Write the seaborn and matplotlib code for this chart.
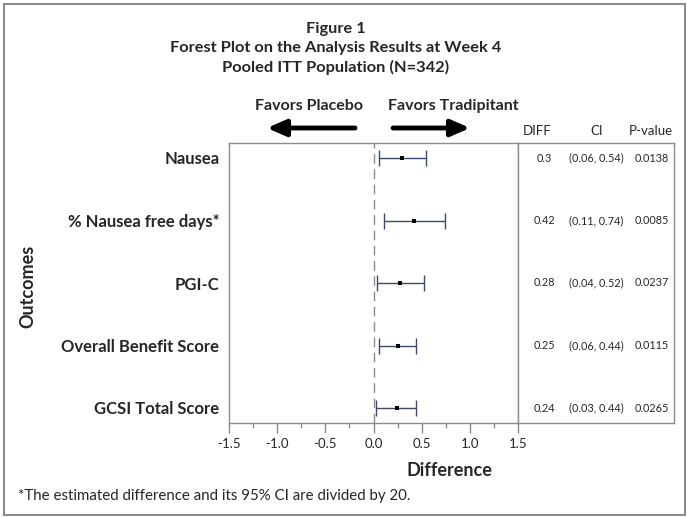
import matplotlib
matplotlib.use("Agg")
import matplotlib.pyplot as plt
from matplotlib.patches import Rectangle
import seaborn as sns
import numpy as np
import pandas as pd

# ---- data ----
outcomes = ["Nausea", "% Nausea free days*", "PGI-C", "Overall Benefit Score", "GCSI Total Score"]
diff = [0.3, 0.42, 0.28, 0.25, 0.24]
ci_low = [0.06, 0.11, 0.04, 0.06, 0.03]
ci_high = [0.54, 0.74, 0.52, 0.44, 0.44]
diff_text = ["0.3", "0.42", "0.28", "0.25", "0.24"]
ci_text = ["(0.06, 0.54)", "(0.11, 0.74)", "(0.04, 0.52)", "(0.06, 0.44)", "(0.03, 0.44)"]
p_text = ["0.0138", "0.0085", "0.0237", "0.0115", "0.0265"]
xticks = [-1.5, -1.0, -0.5, 0.0, 0.5, 1.0, 1.5]
xtick_labels = ["-1.5", "-1.0", "-0.5", "0.0", "0.5", "1.0", "1.5"]
title_lines = ["Figure 1", "Forest Plot on the Analysis Results at Week 4", "Pooled ITT Population (N=342)"]

sns.set_theme(style="white")
plt.rcParams["font.family"] = ["Lato", "DejaVu Sans"]

W, H = 687, 517
fig = plt.figure(figsize=(W / 100, H / 100), dpi=100)

def fx(px):
    return px / W

def fy(py):
    return 1 - py / H

grey = "#8c8c8c"
ax_l, ax_r, ax_t, ax_b = 229, 518, 143, 423
ax = fig.add_axes([fx(ax_l), fy(ax_b), (ax_r - ax_l) / W, (ax_b - ax_t) / H])
tab = fig.add_axes([fx(ax_r), fy(ax_b), (674 - ax_r) / W, (ax_b - ax_t) / H])

df = pd.DataFrame({"Outcome": outcomes, "Diff": diff, "Low": ci_low, "High": ci_high})
df["y"] = np.arange(len(df))

ax.axvline(0, color=grey, lw=1, ls=(0, (7, 4)), zorder=1)
ax.errorbar(df["Diff"], df["y"],
            xerr=[df["Diff"] - df["Low"], df["High"] - df["Diff"]],
            fmt="none", ecolor="#3d4a6b", elinewidth=1, capsize=6, capthick=1, zorder=2)
sns.scatterplot(data=df, x="Diff", y="y", marker="s", color="black", s=10,
                edgecolor="black", linewidth=0, ax=ax, zorder=3, legend=False)

ax.set_xlim(-1.5, 1.5)
ax.set_ylim(4.24, -0.24)
ax.set_xticks(xticks)
ax.set_xticklabels(xtick_labels, fontsize=9.5)
ax.set_xticks(np.arange(-1.25, 1.5, 0.5), minor=True)
ax.tick_params(axis="x", which="major", length=7, width=1, color=grey, direction="out", pad=4, bottom=True)
ax.tick_params(axis="x", which="minor", length=3.5, width=1, color=grey, direction="out", bottom=True)
ax.set_yticks(df["y"])
ax.set_yticklabels(outcomes, fontsize=12, fontweight="bold")
ax.tick_params(axis="y", length=0, pad=7)
ax.set_xlabel("")
ax.set_ylabel("")
for s in ax.spines.values():
    s.set_color(grey)
    s.set_linewidth(1)

tab.set_xlim(0, 1)
tab.set_ylim(4.24, -0.24)
tab.set_xticks([])
tab.set_yticks([])
for s in tab.spines.values():
    s.set_color(grey)
    s.set_linewidth(1)
col_x = [(544 - ax_r) / 156, (596 - ax_r) / 156, (652 - ax_r) / 156]
for i in range(len(outcomes)):
    tab.text(col_x[0], i, diff_text[i], ha="center", va="center", fontsize=7.8)
    tab.text(col_x[1], i, ci_text[i], ha="center", va="center", fontsize=7.8)
    tab.text(col_x[2], i, p_text[i], ha="center", va="center", fontsize=7.8)
for cx, lab in zip([537, 597, 651], ["DIFF", "CI", "P-value"]):
    fig.text(fx(cx), fy(131), lab, ha="center", va="center", fontsize=9.5)

# titles
for yy, t in zip([29, 48, 67], title_lines):
    fig.text(fx(336), fy(yy), t, ha="center", va="center", fontsize=11.8, fontweight="bold")

fig.text(fx(309), fy(106), "Favors Placebo", ha="center", va="center", fontsize=11.5, fontweight="bold")
fig.text(fx(453), fy(106), "Favors Tradipitant", ha="center", va="center", fontsize=11.5, fontweight="bold")
arrow_kw = dict(arrowstyle="-|>,head_length=0.8,head_width=0.35", lw=3.5, color="black",
                mutation_scale=14, shrinkA=0, shrinkB=0)
ax.annotate("", xy=(267, H - 128), xytext=(355, H - 128), xycoords="figure pixels",
            textcoords="figure pixels", arrowprops=arrow_kw, annotation_clip=False)
ax.annotate("", xy=(470, H - 128), xytext=(393, H - 128), xycoords="figure pixels",
            textcoords="figure pixels", arrowprops=arrow_kw, annotation_clip=False)

fig.text(fx(449), fy(470), "Difference", ha="center", va="center", fontsize=13, fontweight="bold")
fig.text(fx(28), fy(286), "Outcomes", ha="center", va="center", fontsize=13,
         fontweight="bold", rotation=90)
fig.text(fx(18), fy(496), "*The estimated difference and its 95% CI are divided by 20.",
         ha="left", va="center", fontsize=10.8)

fig.add_artist(Rectangle((fx(4), fy(515)), (685 - 4) / W, (515 - 4) / H, transform=fig.transFigure,
                         fill=False, edgecolor=grey, lw=1.5))

fig.savefig("out.png", dpi=100)
